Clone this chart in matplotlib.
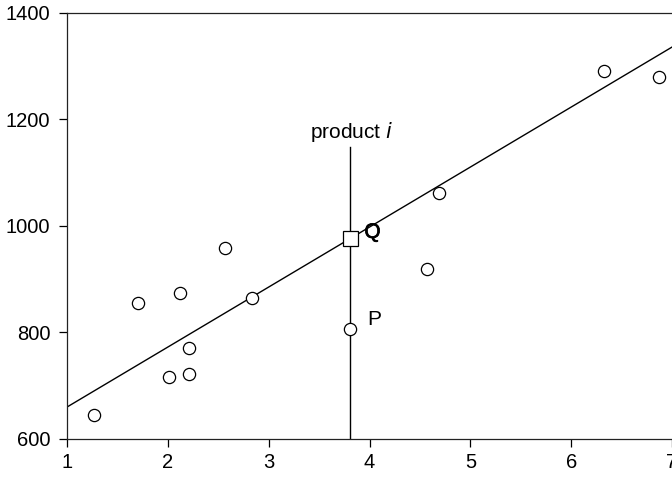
import matplotlib
matplotlib.use("Agg")
import matplotlib.pyplot as plt
import matplotlib.patheffects as pe

plt.rcParams['font.family'] = ['Liberation Sans', 'DejaVu Sans']

# observed products
x_obs = [1.27, 1.70, 2.01, 2.12, 2.21, 2.21, 2.57, 2.83, 3.81, 4.57, 4.69, 6.33, 6.87]
y_obs = [645, 855, 716, 874, 771, 722, 959, 864, 806, 919, 1062, 1292, 1279]

# point Q on the fitted line
q_x, q_y = 4.03, 988
# fitted regression line endpoints
line_x = [1.0, 7.0]
line_y = [660, 1336]
# product i: position, predicted value and guide-line top
prod_x = 3.81
prod_pred = 978
prod_top = 1148

x_ticks = [1, 2, 3, 4, 5, 6, 7]
y_ticks = [600, 800, 1000, 1200, 1400]

fig = plt.figure(figsize=(6.72, 4.78), dpi=100)
ax = fig.add_axes([67/672, 39/478, 1 - 67/672, (439-13)/478])

ax.plot(line_x, line_y, color='black', lw=1.0, zorder=2)
ax.plot([prod_x, prod_x], [600, prod_top], color='black', lw=1.0, zorder=2)
ax.plot(x_obs, y_obs, 'o', ms=8.8, mfc='white', mec='black', mew=0.9, zorder=3)
ax.plot([prod_x], [prod_pred], 's', ms=10.8, mfc='white', mec='black', mew=0.9, zorder=4)

ax.text(q_x, q_y, 'Q', fontsize=15, ha='center', va='center', zorder=5,
        path_effects=[pe.withStroke(linewidth=0.5, foreground='black')])
ax.text(4.05, 824, 'P', fontsize=15, ha='center', va='center')
ax.text(prod_x + 0.01, 1176, 'product $\\it{i}$', fontsize=15, ha='center', va='center')

ax.set_xlim(1, 7)
ax.set_ylim(600, 1400)
ax.set_xticks(x_ticks)
ax.set_yticks(y_ticks)
ax.tick_params(direction='out', length=6, width=0.9, labelsize=14.5, colors='black')
ax.tick_params(axis='x', pad=4)
ax.tick_params(axis='y', pad=6)
for side in ['left', 'bottom', 'top']:
    ax.spines[side].set_linewidth(0.9)
    ax.spines[side].set_color('#222222')
ax.spines['right'].set_visible(False)

fig.savefig('out.png', dpi=100)
